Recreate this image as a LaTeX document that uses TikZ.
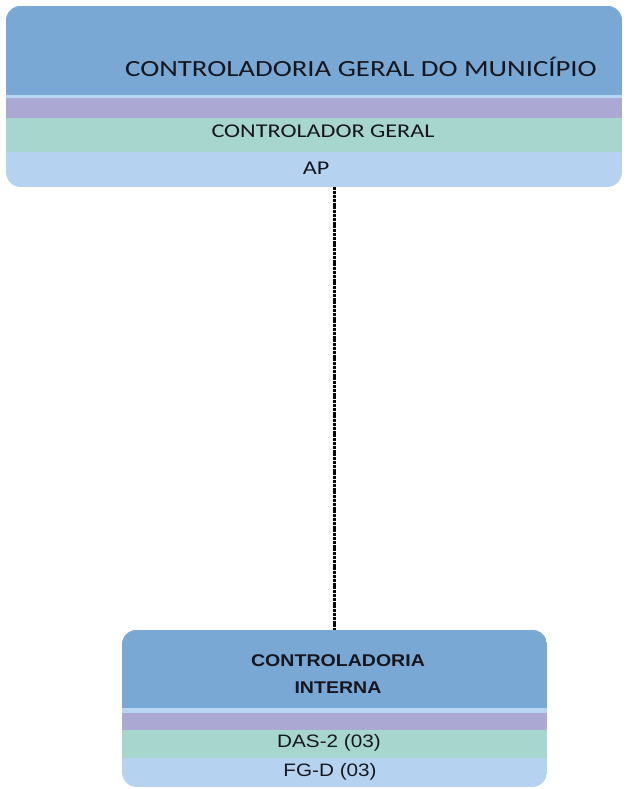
\documentclass[tikz,border=0pt]{standalone}
\usepackage{fontspec}
\setmainfont{Carlito}[FakeStretch=1.24]
\newfontfamily\arialfont{Liberation Sans}
\newfontfamily\arialwide{Liberation Sans}[FakeStretch=1.15]
\usepackage{tikz}
\usetikzlibrary{calc}

\definecolor{headblue}{HTML}{79A8D5}
\definecolor{rimblue}{HTML}{B7D6F1}
\definecolor{bandpurple}{HTML}{ABA8D3}
\definecolor{bandteal}{HTML}{A7D6CF}
\definecolor{bandlight}{HTML}{B5D3F0}
\definecolor{textgray}{HTML}{16161E}

\begin{document}
\begin{tikzpicture}[x=1pt, y=-1pt, thick,
    orgbox/.style n args={4}{rounded corners=15pt, inner sep=0pt,
        path picture={
            \coordinate (nw) at (path picture bounding box.north west);
            \coordinate (se) at (path picture bounding box.south east);
            \fill[sharp corners, bandlight] (nw) rectangle (se);
            \fill[sharp corners, bandteal] (nw) rectangle ($(se |- nw)+(0pt,-#4pt)$);
            \fill[sharp corners, bandpurple] (nw) rectangle ($(se |- nw)+(0pt,-#3pt)$);
            \fill[sharp corners, rimblue] (nw) rectangle ($(se |- nw)+(0pt,-#2pt)$);
            \fill[sharp corners, headblue] (nw) rectangle ($(se |- nw)+(0pt,-#1pt)$);
        }},
    boxtext/.style={text=textgray, inner sep=0pt},
    conn/.style={black, line width=2.2pt, dash pattern=on 3pt off 0.8pt}]
        \useasboundingbox (0,0) rectangle (628,789);

        % Nodes
        \node (cgm) [orgbox={89}{92}{112}{146}, minimum width=616pt, minimum height=181pt] at (314,96.5) {};
        \node (cgmname) [boxtext, font=\fontsize{23.2}{26}\selectfont] at (361,67) {CONTROLADORIA GERAL DO MUNICÍPIO};
        \node (cgmhead) [boxtext, font=\fontsize{19.5}{22}\selectfont] at (323,131) {CONTROLADOR GERAL};
        \node (cgmap) [boxtext, font=\fontsize{19.5}{22}\selectfont] at (316,168) {AP};

        \node (ci) [orgbox={78}{83}{100}{128}, minimum width=425pt, minimum height=157pt] at (334.5,708.5) {};
        \node (ciname) [boxtext, font=\arialwide\bfseries\fontsize{17}{20}\selectfont, align=center] at (338,674) {CONTROLADORIA\\[7pt]INTERNA};
        \node (cidas) [boxtext, font=\arialwide\fontsize{18}{21}\selectfont] at (329,743) {DAS-2 (03)};
        \node (cifg) [boxtext, font=\arialwide\fontsize{18}{21}\selectfont] at (330,772) {FG-D (03)};

        % Edges
        \draw[conn] (ci.north |- cgm.south) -- (ci.north);
\end{tikzpicture}
\end{document}
